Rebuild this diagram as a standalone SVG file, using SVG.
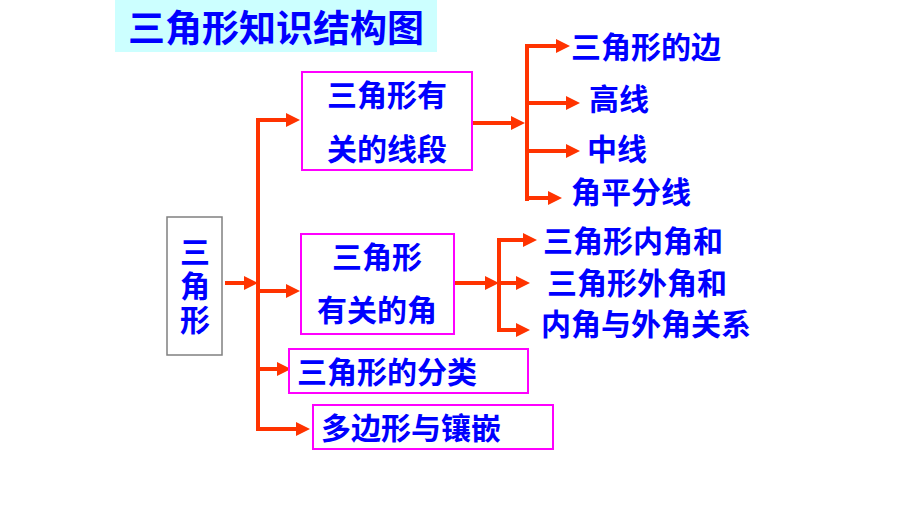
<svg xmlns="http://www.w3.org/2000/svg" width="920" height="518" viewBox="0 0 920 518">
<defs>
<style>
text{font-family:"Noto Sans CJK SC","Noto Sans CJK JP",sans-serif;font-weight:bold;fill:#0000ff;font-size:30px}
.box{fill:#ffffff;stroke:#ff00ff;stroke-width:2}
.c{text-anchor:middle}
.ln{fill:none;stroke:#ff3300;stroke-width:4}
</style>
<marker id="ah" markerUnits="userSpaceOnUse" markerWidth="14" markerHeight="14" refX="5" refY="7" orient="auto">
<path d="M0,0 L14,7 L0,14 z" fill="#ff3300"/>
</marker>
</defs>
<rect width="920" height="518" fill="#ffffff"/>
<g id="title">
<rect x="115" y="0" width="322" height="52" fill="#ccffff"/>
<text x="276" y="42" class="c" style="font-size:37px">三角形知识结构图</text>
</g>
<g id="connectors">
<path class="ln" d="M225,283 H249" marker-end="url(#ah)"/>
<path class="ln" d="M258,118 V431"/>
<path class="ln" d="M256,120 H291" marker-end="url(#ah)"/>
<path class="ln" d="M258,291 H291" marker-end="url(#ah)"/>
<path class="ln" d="M258,369 H282" marker-end="url(#ah)"/>
<path class="ln" d="M256,429 H301" marker-end="url(#ah)"/>
<path class="ln" d="M472,123 H516" marker-end="url(#ah)"/>
<path class="ln" d="M527,44 V201"/>
<path class="ln" d="M525,46 H561" marker-end="url(#ah)"/>
<path class="ln" d="M527,103 H571" marker-end="url(#ah)"/>
<path class="ln" d="M527,151 H571" marker-end="url(#ah)"/>
<path class="ln" d="M525,198 H553" marker-end="url(#ah)"/>
<path class="ln" d="M454,283 H490" marker-end="url(#ah)"/>
<path class="ln" d="M499,238 V332"/>
<path class="ln" d="M497,240 H528" marker-end="url(#ah)"/>
<path class="ln" d="M499,283 H521" marker-end="url(#ah)"/>
<path class="ln" d="M497,330 H521" marker-end="url(#ah)"/>
</g>
<g id="root">
<rect x="167" y="217" width="55" height="138" fill="#ffffff" stroke="#808080" stroke-width="1.5"/>
<text x="195" y="237" style="writing-mode:vertical-rl;letter-spacing:4px">三角形</text>
</g>
<g id="segments">
<rect class="box" x="302" y="72" width="170" height="98"/>
<text x="387" y="106" class="c">三角形有</text>
<text x="387" y="160" class="c">关的线段</text>
</g>
<g id="angles">
<rect class="box" x="301" y="234" width="153" height="100"/>
<text x="377" y="268" class="c">三角形</text>
<text x="377" y="321" class="c">有关的角</text>
</g>
<g id="classify">
<rect class="box" x="289" y="349" width="239" height="44"/>
<text x="297" y="383">三角形的分类</text>
</g>
<g id="polygon">
<rect class="box" x="313" y="405" width="240" height="44"/>
<text x="321" y="439">多边形与镶嵌</text>
</g>
<g id="side"><text x="571" y="58">三角形的边</text></g>
<g id="altitude"><text x="589" y="110">高线</text></g>
<g id="median"><text x="587" y="160">中线</text></g>
<g id="bisector"><text x="571" y="203">角平分线</text></g>
<g id="interior"><text x="543" y="252">三角形内角和</text></g>
<g id="exterior"><text x="547" y="294">三角形外角和</text></g>
<g id="relation"><text x="541" y="335">内角与外角关系</text></g>
</svg>
